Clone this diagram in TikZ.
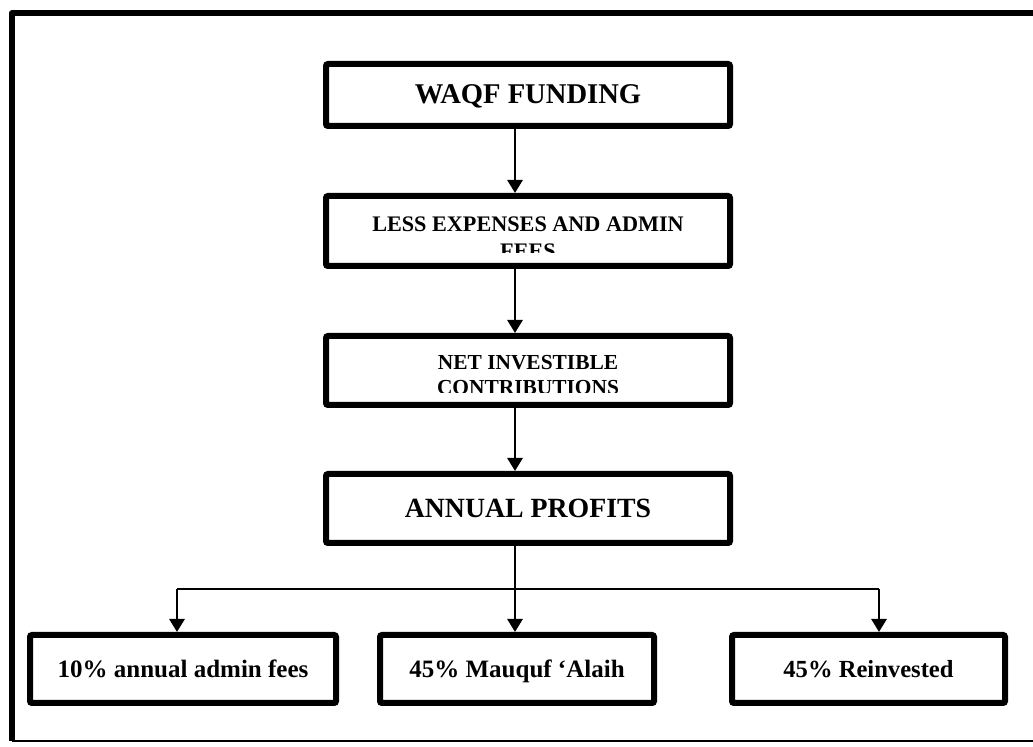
\documentclass[tikz,border=0pt]{standalone}
\usepackage{fontspec}
\setmainfont{Liberation Serif}
\usetikzlibrary{arrows.meta}

\begin{document}
\begin{tikzpicture}
	 [x=0.5pt,y=-0.5pt,
	  box/.style={draw,line width=3pt,rounded corners=1pt,inner sep=0pt,text height=9pt,text depth=0pt},
	  arr/.style={line width=1.4pt,-{Triangle[length=6.5pt,width=7.5pt]}},
	  txt/.style={align=center,anchor=north,inner sep=0pt}]
	\useasboundingbox (0,0) rectangle (1033,747);

	\draw[line width=3pt,line join=round] (1033,13) -- (12,13) -- (12,741);
	\draw[line width=0.8pt] (12,741) -- (1033,741);

	  \node (waqf)[box,minimum width=202pt,minimum height=31pt,font=\bfseries\fontsize{14.3}{16}\selectfont] at (528,95) {WAQF FUNDING};
	  \node (less)[box,minimum width=202pt,minimum height=35pt] at (528,231) {};
	  \node (net)[box,minimum width=202pt,minimum height=34.5pt] at (528,370.5) {};
	  \node (profit)[box,minimum width=202pt,minimum height=34.5pt,font=\bfseries\fontsize{13.9}{16}\selectfont] at (528,508.5) {ANNUAL PROFITS};

	\begin{scope}
	  \clip (329,199) rectangle (727,253);
	  \node (lesstxt)[txt,font=\bfseries\fontsize{11.1}{13.5}\selectfont] at (528,216) {LESS EXPENSES AND ADMIN\\FEES};
	\end{scope}
	\begin{scope}
	  \clip (329,339) rectangle (727,393);
	  \node (nettxt)[txt,font=\bfseries\fontsize{10.7}{12.5}\selectfont] at (528,355) {NET INVESTIBLE\\CONTRIBUTIONS};
	\end{scope}

	  \node (fees)[box,minimum width=153pt,minimum height=34pt,font=\bfseries\fontsize{12.5}{14}\selectfont] at (183,669) {10\% annual admin fees};
	  \node (mauquf)[box,minimum width=137pt,minimum height=34pt,font=\bfseries\fontsize{12.5}{14}\selectfont] at (517,669) {45\% Mauquf ‘Alaih};
	  \node (reinv)[box,minimum width=136.5pt,minimum height=34pt,font=\bfseries\fontsize{12.3}{14}\selectfont] at (868.5,669) {45\% Reinvested};

	\coordinate (fork) at (515,589);
	\coordinate (lft) at (177,589);
	\coordinate (rgt) at (879,589);

	\foreach \from/\to in {waqf/less,less/net,net/profit,profit/mauquf}
    \draw[arr] (\from.south -| fork) -- (\to.north -| fork);

	\draw[line width=0.8pt] (lft) -- (rgt);
	\draw[arr] (lft) -- (lft |- fees.north);
	\draw[arr] (rgt) -- (rgt |- reinv.north);

\end{tikzpicture}
\end{document}
